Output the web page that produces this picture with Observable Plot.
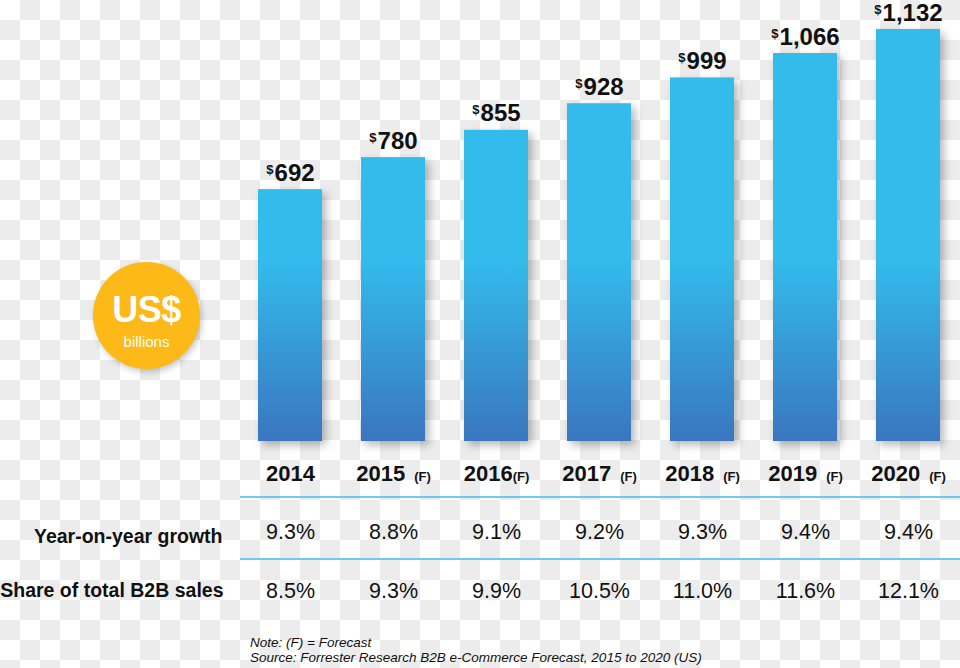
<!DOCTYPE html>
<html>
<head>
<meta charset="utf-8">
<script src="https://cdn.jsdelivr.net/npm/d3@7"></script>
<script src="https://cdn.jsdelivr.net/npm/@observablehq/plot@0.6"></script>
<style>
  html, body { margin: 0; padding: 0; }
  body {
    width: 960px; height: 668px; overflow: hidden;
    background: repeating-conic-gradient(#ececec 0 25%, #ffffff 0 50%) 0 0 / 40px 40px;
    font-family: "Liberation Sans", Arial, Helvetica, sans-serif;
  }
  #wrap { position: relative; width: 960px; height: 668px; }
  #chart { position: absolute; left: 0; top: 0; }
  #badge {
    position: absolute; left: 93px; top: 262px; width: 107px; height: 107px;
    border-radius: 50%; background: #fcb918; color: #fff; text-align: center;
    box-shadow: 2px 3px 6px rgba(0,0,0,0.22);
  }
  #badge .big { position: absolute; left: 0; right: 0; top: 30px; font-size: 36px; line-height: 36px; font-weight: bold; letter-spacing: -0.5px; }
  #badge .small { position: absolute; left: 0; right: 0; top: 72px; font-size: 15px; line-height: 15px; }
  .sep { position: absolute; left: 240px; width: 720px; height: 2px; background: #6dcbf0; }
  #caption { position: absolute; left: 250px; top: 635px; font-size: 13.5px; line-height: 15px; font-style: italic; color: #111; white-space: nowrap; }
</style>
</head>
<body>
<div id="wrap">
  <div id="chart"></div>
  <div id="badge"><div class="big">US$</div><div class="small">billions</div></div>
  <div class="sep" style="top:496px"></div>
  <div class="sep" style="top:558px"></div>
  <div id="caption">Note: (F) = Forecast<br>Source: Forrester Research B2B e-Commerce Forecast, 2015 to 2020 (US)</div>
</div>
<script>
// ---- data ----
const years = ["2014", "2015", "2016", "2017", "2018", "2019", "2020"];
const yearLabels = ["2014", "2015 (F)", "2016(F)", "2017 (F)", "2018 (F)", "2019 (F)", "2020 (F)"];
const sales = [692, 780, 855, 928, 999, 1066, 1132];          // US$ billions
const growth = [9.3, 8.8, 9.1, 9.2, 9.3, 9.4, 9.4];            // year-on-year growth %
const share = [8.5, 9.3, 9.9, 10.5, 11.0, 11.6, 12.1];         // share of total B2B sales %
const rowLabels = ["Year-on-year growth", "Share of total B2B sales"];

const rows = years.map((y, i) => ({
  year: y, label: yearLabels[i], sales: sales[i], growth: growth[i], share: share[i]
}));
const pct = v => v.toFixed(1) + "%";

const plot = Plot.plot({
  width: 960,
  height: 668,
  marginTop: 29,
  marginBottom: 227,
  marginLeft: 237,
  marginRight: 0,
  style: { background: "transparent", color: "#111", fontFamily: "'Liberation Sans', Arial, Helvetica, sans-serif", overflow: "visible" },
  x: { domain: years, paddingInner: 0.38, paddingOuter: 0.19, axis: null },
  y: { domain: [0, 1132], axis: null },
  marks: [
    Plot.barY(rows, { x: "year", y: "sales", fill: "url(#barGrad)" }),
    Plot.text(rows, { x: "year", y: "sales", text: d => "$" + d3.format(",")(d.sales),
      lineAnchor: "bottom", dy: -9, fontSize: 24, fontWeight: "bold" }),
    Plot.text(rows, { x: "year", text: "label", frameAnchor: "bottom", lineAnchor: "bottom",
      dy: 39, fontSize: 22, fontWeight: "bold" }),
    Plot.text(rows, { x: "year", text: d => pct(d.growth), frameAnchor: "bottom", lineAnchor: "bottom",
      dy: 97, fontSize: 21.5 }),
    Plot.text(rows, { x: "year", text: d => pct(d.share), frameAnchor: "bottom", lineAnchor: "bottom",
      dy: 156, fontSize: 21.5 }),
    Plot.text([rowLabels[0]], { text: d => d, frameAnchor: "bottom-left", textAnchor: "end", lineAnchor: "bottom",
      dx: -15, dy: 101, fontSize: 19.5, fontWeight: "bold" }),
    Plot.text([rowLabels[1]], { text: d => d, frameAnchor: "bottom-left", textAnchor: "end", lineAnchor: "bottom",
      dx: -14, dy: 155, fontSize: 19.5, fontWeight: "bold" })
  ]
});

const svg = d3.select(plot);
svg.insert("defs", ":first-child").html(
  `<linearGradient id="barGrad" gradientUnits="userSpaceOnUse" x1="0" y1="260" x2="0" y2="441">
     <stop offset="0" stop-color="#33bbec"/>
     <stop offset="1" stop-color="#3a76bf"/>
   </linearGradient>`
);
svg.selectAll('g[aria-label="bar"]').style("filter", "drop-shadow(4px 4px 4px rgba(0,0,0,0.28))");

svg.selectAll("text").each(function () {
  const t = this.textContent;
  const sel = d3.select(this);
  if (t.startsWith("$")) {
    this.textContent = "";
    sel.append("tspan").attr("font-size", 13).attr("dy", -7).text("$");
    sel.append("tspan").attr("dy", 7).attr("dx", 1).text(t.slice(1));
    return;
  }
  const m = t.match(/^(\d{4})(\s?)\(F\)$/);
  if (m) {
    this.textContent = "";
    sel.append("tspan").text(m[1] + m[2]);
    sel.append("tspan").attr("font-size", 13).attr("dx", m[2] ? 3 : 0).text("(F)");
  }
});

document.getElementById("chart").appendChild(plot);
</script>
</body>
</html>
